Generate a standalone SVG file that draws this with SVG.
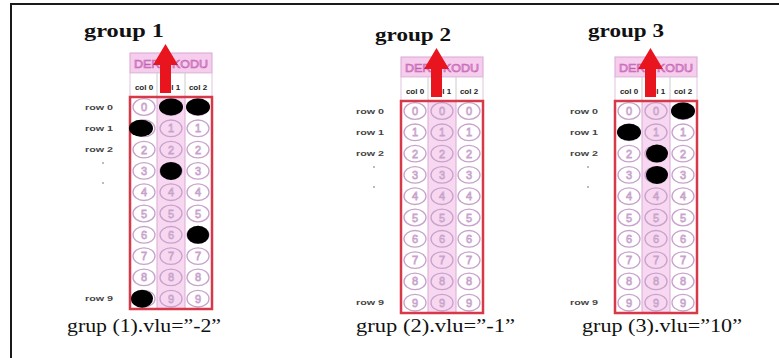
<svg xmlns="http://www.w3.org/2000/svg" xmlns:xlink="http://www.w3.org/1999/xlink" width="779" height="358" viewBox="0 0 779 358">
  <style>
    .title { font-family: "Liberation Serif", "Times New Roman", serif; font-weight: bold; font-size: 19px; fill: #111; }
    .caption { font-family: "Liberation Serif", "Times New Roman", serif; font-size: 18px; fill: #111; }
    .hdr { font-family: "Liberation Sans", Arial, sans-serif; font-size: 11px; fill: #f2b6e6; stroke: #c25fb0; stroke-width: 0.6; text-anchor: middle; }
    .col { font-family: "Liberation Sans", Arial, sans-serif; font-size: 8px; font-weight: bold; fill: #222; text-anchor: middle; }
    .row { font-family: "Liberation Sans", Arial, sans-serif; font-size: 8px; font-weight: bold; fill: #444; text-anchor: end; }
    .bub { fill: none; stroke: #c8a2cc; stroke-width: 1.3; }
    .dig { font-family: "Liberation Sans", Arial, sans-serif; font-size: 11px; fill: #fff; stroke: #c8a2cc; stroke-width: 0.8; text-anchor: middle; }
    .dot { fill: #000; }
    .arrow { fill: #e8141e; }
  </style>
  <defs>
    <!-- one column of answer bubbles 0..9 -->
    <g id="bubbles">
      <ellipse class="bub" cx="14" cy="54" rx="11" ry="8.3"/><text class="dig" x="14" y="58">0</text>
      <ellipse class="bub" cx="14" cy="75.3" rx="11" ry="8.3"/><text class="dig" x="14" y="79.3">1</text>
      <ellipse class="bub" cx="14" cy="96.6" rx="11" ry="8.3"/><text class="dig" x="14" y="100.6">2</text>
      <ellipse class="bub" cx="14" cy="117.9" rx="11" ry="8.3"/><text class="dig" x="14" y="121.9">3</text>
      <ellipse class="bub" cx="14" cy="139.2" rx="11" ry="8.3"/><text class="dig" x="14" y="143.2">4</text>
      <ellipse class="bub" cx="14" cy="160.5" rx="11" ry="8.3"/><text class="dig" x="14" y="164.5">5</text>
      <ellipse class="bub" cx="14" cy="181.8" rx="11" ry="8.3"/><text class="dig" x="14" y="185.8">6</text>
      <ellipse class="bub" cx="14" cy="203.1" rx="11" ry="8.3"/><text class="dig" x="14" y="207.1">7</text>
      <ellipse class="bub" cx="14" cy="224.4" rx="11" ry="8.3"/><text class="dig" x="14" y="228.4">8</text>
      <ellipse class="bub" cx="14" cy="245.7" rx="11" ry="8.3"/><text class="dig" x="14" y="249.7">9</text>
    </g>
    <!-- the optical answer sheet field shared by every group -->
    <g id="sheet">
      <rect x="0" y="0" width="82" height="20" fill="#f7cdee" stroke="#d9a6d4" stroke-width="1"/>
      <text class="hdr" x="41" y="14.5" textLength="74" lengthAdjust="spacingAndGlyphs">DERS KODU</text>
      <rect x="0" y="20" width="82" height="24" fill="#fff" stroke="#e2c4de" stroke-width="1"/>
      <line x1="27" y1="20" x2="27" y2="44" stroke="#ccc" stroke-width="1"/>
      <line x1="55" y1="20" x2="55" y2="44" stroke="#ccc" stroke-width="1"/>
      <text class="col" x="14" y="37">col 0</text>
      <text class="col" x="41" y="37">col 1</text>
      <text class="col" x="68" y="37">col 2</text>
      <rect x="0" y="44" width="82" height="212" fill="#fff"/>
      <rect x="27" y="44" width="28" height="212" fill="#f8d8f1"/>
      <line x1="27" y1="44" x2="27" y2="256" stroke="#dca8d6" stroke-width="1"/>
      <line x1="55" y1="44" x2="55" y2="256" stroke="#dca8d6" stroke-width="1"/>
      <use xlink:href="#bubbles"/>
      <use xlink:href="#bubbles" x="27"/>
      <use xlink:href="#bubbles" x="54"/>
      <rect x="0" y="44" width="82" height="212" fill="none" stroke="#d63a4a" stroke-width="2.5"/>
      <text class="row" x="-17" y="56.5" textLength="28" lengthAdjust="spacingAndGlyphs">row 0</text>
      <text class="row" x="-17" y="77.8" textLength="28" lengthAdjust="spacingAndGlyphs">row 1</text>
      <text class="row" x="-17" y="99.1" textLength="28" lengthAdjust="spacingAndGlyphs">row 2</text>
      <circle cx="-27" cy="110" r="0.8" fill="#666"/>
      <circle cx="-27" cy="130" r="0.8" fill="#666"/>
      <text class="row" x="-17" y="248.2" textLength="28" lengthAdjust="spacingAndGlyphs">row 9</text>
    </g>
    <path id="arrowUp" class="arrow" d="M30,40 L30,12 L23,12 L35.5,-9 L48,12 L41,12 L41,40 Z"/>
  </defs>

  <!-- frame -->
  <path d="M11,358 V4 H779" fill="none" stroke="#1a1a1a" stroke-width="2"/>

  <g id="group1">
    <text class="title" x="84" y="37" textLength="80" lengthAdjust="spacingAndGlyphs">group 1</text>
    <g transform="translate(130,53)">
      <use xlink:href="#sheet"/>
      <ellipse class="dot" cx="41" cy="54" rx="12" ry="8.5"/>
      <ellipse class="dot" cx="68" cy="54" rx="12" ry="8.5"/>
      <ellipse class="dot" cx="11" cy="75.3" rx="12" ry="8.5"/>
      <ellipse class="dot" cx="41" cy="117.9" rx="11" ry="9"/>
      <ellipse class="dot" cx="68" cy="181.8" rx="11" ry="9"/>
      <ellipse class="dot" cx="12" cy="245.7" rx="11" ry="9"/>
      <use xlink:href="#arrowUp"/>
    </g>
    <text class="caption" x="67" y="332" textLength="154" lengthAdjust="spacingAndGlyphs">grup (1).vlu=”-2”</text>
  </g>

  <g id="group2">
    <text class="title" x="375" y="41" textLength="76" lengthAdjust="spacingAndGlyphs">group 2</text>
    <g transform="translate(401,57)">
      <use xlink:href="#sheet"/>
      <use xlink:href="#arrowUp"/>
    </g>
    <text class="caption" x="356" y="332" textLength="159" lengthAdjust="spacingAndGlyphs">grup (2).vlu=”-1”</text>
  </g>

  <g id="group3">
    <text class="title" x="588" y="37" textLength="76" lengthAdjust="spacingAndGlyphs">group 3</text>
    <g transform="translate(615,57)">
      <use xlink:href="#sheet"/>
      <ellipse class="dot" cx="68" cy="54" rx="12" ry="8.5"/>
      <ellipse class="dot" cx="14" cy="75.3" rx="12" ry="8.5"/>
      <ellipse class="dot" cx="42" cy="96.6" rx="11" ry="9"/>
      <ellipse class="dot" cx="42" cy="117.9" rx="11" ry="9"/>
      <use xlink:href="#arrowUp"/>
    </g>
    <text class="caption" x="582" y="332" textLength="160" lengthAdjust="spacingAndGlyphs">grup (3).vlu=”10”</text>
  </g>
</svg>
